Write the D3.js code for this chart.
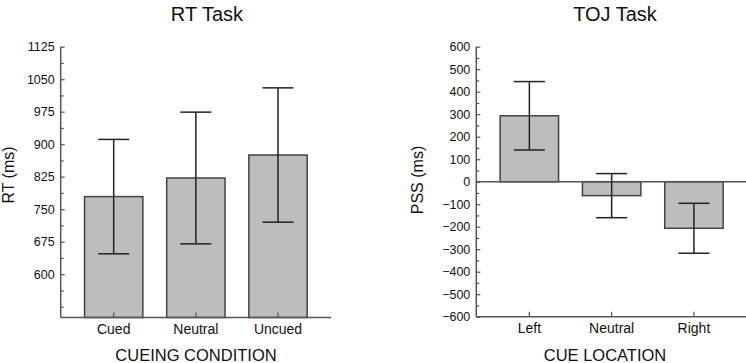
<!DOCTYPE html>
<html><head><meta charset="utf-8">
<script src="https://cdn.jsdelivr.net/npm/d3@7"></script>
<style>
body{margin:0;background:#fff;}
svg{display:block;font-family:"Liberation Sans",Arial,Helvetica,sans-serif;}
</style></head>
<body>
<svg id="chart" width="746" height="363"></svg>
<script>
// RT Task data
const rtCategories = ["Cued", "Neutral", "Uncued"];
const rtMeans = [779, 822, 875];
const rtErrors = [132, 152, 155];
const rtTicks = [600, 675, 750, 825, 900, 975, 1050, 1125];
const rtMinorTicks = [525, 562.5, 637.5, 712.5, 787.5, 862.5, 937.5, 1012.5, 1087.5];

// TOJ Task data
const tojCategories = ["Left", "Neutral", "Right"];
const tojMeans = [293, -62, -207];
const tojErrors = [152, 98, 111];
const tojTicks = [-600, -500, -400, -300, -200, -100, 0, 100, 200, 300, 400, 500, 600];
const tojMinorTicks = [-550, -450, -350, -250, -150, -50, 50, 150, 250, 350, 450, 550];

const svg = d3.select("#chart");
const axisColor = "#555";
const barFill = "#bdbdbd";
const barStroke = "#444";

function panel(opts) {
  const x = d3.scaleBand().domain(opts.categories).range([opts.x0, opts.x1]).padding(0.29);
  const y = d3.scaleLinear().domain(opts.domain).range([opts.yBottom, opts.yTop]);
  const g = svg.append("g");

  // title
  g.append("text").attr("x", opts.titleX).attr("y", 21).attr("text-anchor", "middle")
    .attr("font-size", 20).attr("fill", "#111").text(opts.title);

  // y label
  g.append("text").attr("transform", `translate(${opts.yLabelX},${opts.yLabelY}) rotate(-90)`)
    .attr("text-anchor", "middle").attr("font-size", 16).attr("fill", "#111").text(opts.yLabel);

  // x label
  g.append("text").attr("x", opts.xLabelX).attr("y", 361).attr("text-anchor", "middle")
    .attr("font-size", 16.5).attr("fill", "#111").text(opts.xLabel);

  // bars
  const base = opts.base;
  g.selectAll("rect.bar").data(opts.means).enter().append("rect")
    .attr("x", (d, i) => x(opts.categories[i]))
    .attr("width", x.bandwidth())
    .attr("y", d => Math.min(y(d), y(base)))
    .attr("height", d => Math.abs(y(d) - y(base)))
    .attr("fill", barFill).attr("stroke", barStroke).attr("stroke-width", 1.5);

  // zero line
  if (opts.zeroLine) {
    g.append("line").attr("x1", opts.x0).attr("x2", 746).attr("y1", y(0)).attr("y2", y(0))
      .attr("stroke", axisColor).attr("stroke-width", 1.5);
  }

  // error bars
  const cap = 15.5;
  opts.means.forEach((m, i) => {
    const cx = x(opts.categories[i]) + x.bandwidth() / 2;
    const e = opts.errors[i];
    g.append("line").attr("x1", cx).attr("x2", cx).attr("y1", y(m + e)).attr("y2", y(m - e))
      .attr("stroke", "#222").attr("stroke-width", 1.5);
    [m + e, m - e].forEach(v => {
      g.append("line").attr("x1", cx - cap).attr("x2", cx + cap).attr("y1", y(v)).attr("y2", y(v))
        .attr("stroke", "#222").attr("stroke-width", 1.5);
    });
  });

  // y axis
  const yAxis = d3.axisRight(y).tickValues(opts.ticks).tickSize(4)
    .tickFormat(d => d3.format("")(d).replace("-", "\u2212"));
  const ya = g.append("g").attr("transform", `translate(${opts.x0},0)`).call(yAxis);
  ya.select(".domain").attr("stroke", axisColor).attr("stroke-width", 1.5).attr("d", `M0,${opts.yTop}V${opts.yBottom}`);
  ya.selectAll(".tick line").attr("stroke", axisColor).attr("stroke-width", 1.2);
  ya.selectAll(".tick text").attr("text-anchor", "end").attr("x", -6).attr("font-size", 12.5)
    .attr("fill", "#111").attr("font-family", "Liberation Sans, Arial, sans-serif");
  const yMinor = d3.axisRight(y).tickValues(opts.minorTicks).tickSize(3).tickFormat("");
  const ym = g.append("g").attr("transform", `translate(${opts.x0},0)`).call(yMinor);
  ym.select(".domain").remove();
  ym.selectAll(".tick line").attr("stroke", axisColor).attr("stroke-width", 1.2);

  // x axis
  const xAxis = d3.axisTop(x).tickSize(5).tickFormat("");
  const xa = g.append("g").attr("transform", `translate(0,${opts.yBottom})`).call(xAxis);
  xa.select(".domain").attr("stroke", axisColor).attr("stroke-width", 1.5).attr("d", `M${opts.x0},0H${opts.x1}`);
  xa.selectAll(".tick line").attr("stroke", axisColor).attr("stroke-width", 1.2);
  xa.selectAll(".tick").append("text").attr("y", 16).attr("text-anchor", "middle")
    .attr("font-size", 14).attr("fill", "#111").text(d => d);
}

panel({
  categories: rtCategories, means: rtMeans, errors: rtErrors,
  ticks: rtTicks, minorTicks: rtMinorTicks, domain: [500, 1125], base: 500,
  x0: 60.7, x1: 331, yTop: 46.7, yBottom: 317.5,
  title: "RT Task", titleX: 207, yLabel: "RT (ms)", yLabelX: 14, yLabelY: 175,
  xLabel: "CUEING CONDITION", xLabelX: 196, zeroLine: false
});

panel({
  categories: tojCategories, means: tojMeans, errors: tojErrors,
  ticks: tojTicks, minorTicks: tojMinorTicks, domain: [-600, 600], base: 0,
  x0: 476.3, x1: 747, yTop: 46.7, yBottom: 316.7,
  title: "TOJ Task", titleX: 615, yLabel: "PSS (ms)", yLabelX: 423, yLabelY: 180,
  xLabel: "CUE LOCATION", xLabelX: 605, zeroLine: true
});
</script>
</body></html>
